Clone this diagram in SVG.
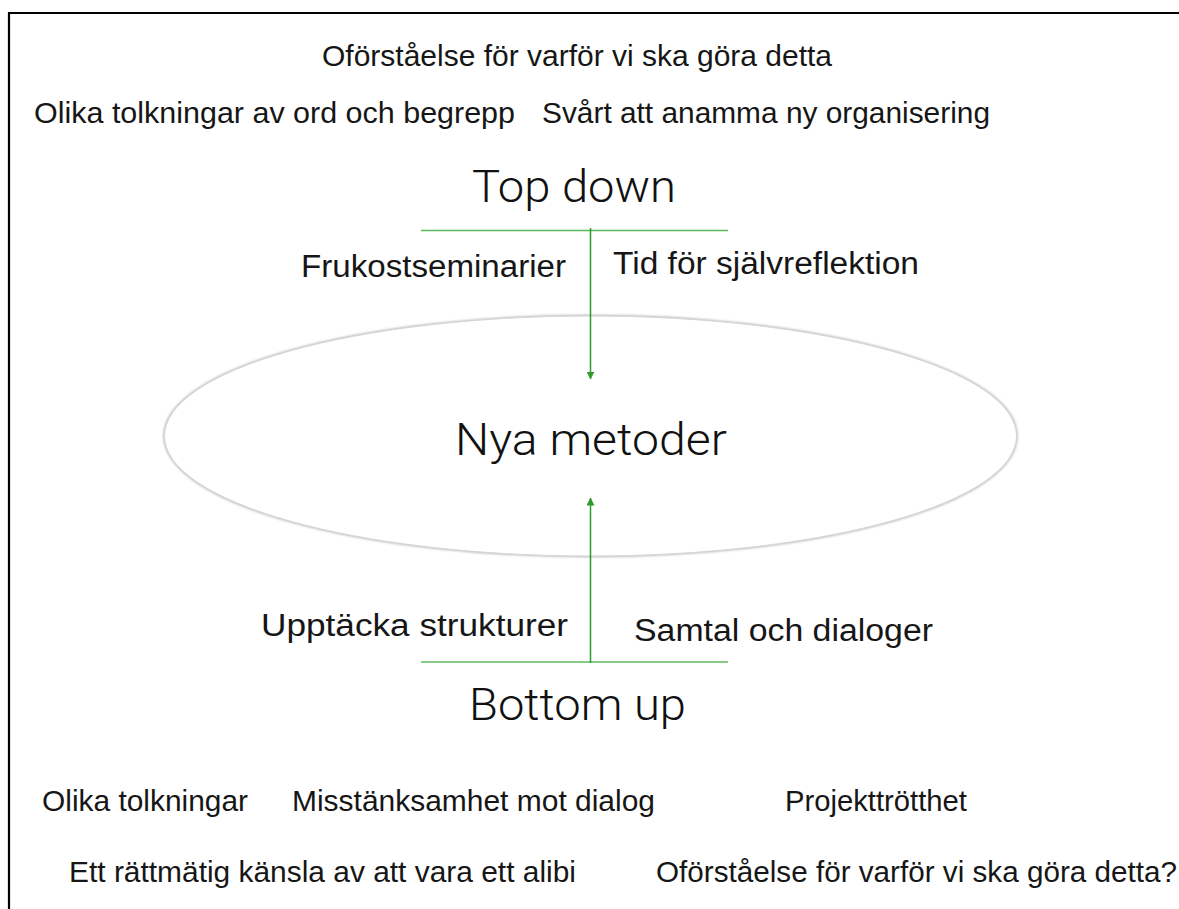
<svg xmlns="http://www.w3.org/2000/svg" width="1179" height="909" viewBox="0 0 1179 909">
<style>
.t{font-family:"Liberation Sans",Arial,sans-serif;fill:#161616;}
.s{font-size:29px;}
.m{font-size:31px;}
.l{font-size:44px;font-family:Roboto,"Liberation Sans",sans-serif;font-weight:300;fill:#111;}
.hl{stroke:#5cb85c;stroke-width:1.6;fill:none;}
.vl{stroke:#2e9a2e;stroke-width:1.5;fill:none;}
</style>
<defs>
<marker id="ah" viewBox="0 0 8 8" refX="7.5" refY="4" markerWidth="8" markerHeight="8" markerUnits="userSpaceOnUse" orient="auto">
<path d="M0,0 L8,4 L0,8 Z" fill="#2e9a2e"/>
</marker>
<filter id="sh" x="-5%" y="-10%" width="110%" height="120%">
<feGaussianBlur stdDeviation="1.2"/>
</filter>
</defs>
<rect width="1179" height="909" fill="#fff"/>
<path d="M9,909 V13 H1179" stroke="#000" stroke-width="2.2" fill="none"/>
<g id="node-nya-metoder">
<ellipse cx="590.5" cy="436" rx="426" ry="120" fill="none" stroke="#bbb" stroke-width="2.5" filter="url(#sh)"/>
<ellipse cx="590.5" cy="436" rx="426" ry="120" fill="#fff" stroke="#d6d6d6" stroke-width="1"/>
<text class="t l" x="455" y="455" textLength="272" lengthAdjust="spacingAndGlyphs">Nya metoder</text>
</g>
<g id="node-top-down">
<text class="t l" x="472" y="202" textLength="204" lengthAdjust="spacingAndGlyphs">Top down</text>
</g>
<g id="node-bottom-up">
<text class="t l" x="469" y="720" textLength="217" lengthAdjust="spacingAndGlyphs">Bottom up</text>
</g>
<g id="connectors">
<line class="hl" x1="421" y1="230.5" x2="728" y2="230.5"/>
<line class="vl" x1="590.5" y1="228" x2="590.5" y2="379" marker-end="url(#ah)"/>
<line class="hl" x1="421" y1="662" x2="728" y2="662"/>
<line class="vl" x1="590.5" y1="663" x2="590.5" y2="498" marker-end="url(#ah)"/>
</g>
<g id="labels-top">
<text class="t s" x="322" y="66" textLength="510" lengthAdjust="spacingAndGlyphs">Oförståelse för varför vi ska göra detta</text>
<text class="t s" x="34" y="123" textLength="481" lengthAdjust="spacingAndGlyphs">Olika tolkningar av ord och begrepp</text>
<text class="t s" x="542" y="123" textLength="448" lengthAdjust="spacingAndGlyphs">Svårt att anamma ny organisering</text>
<text class="t m" x="301" y="277" textLength="265" lengthAdjust="spacingAndGlyphs">Frukostseminarier</text>
<text class="t m" x="613" y="274" textLength="306" lengthAdjust="spacingAndGlyphs">Tid för självreflektion</text>
</g>
<g id="labels-bottom">
<text class="t m" x="261" y="636" textLength="307" lengthAdjust="spacingAndGlyphs">Upptäcka strukturer</text>
<text class="t m" x="634" y="641" textLength="299" lengthAdjust="spacingAndGlyphs">Samtal och dialoger</text>
<text class="t s" x="42" y="811" textLength="206" lengthAdjust="spacingAndGlyphs">Olika tolkningar</text>
<text class="t s" x="292" y="811" textLength="363" lengthAdjust="spacingAndGlyphs">Misstänksamhet mot dialog</text>
<text class="t s" x="785" y="811" textLength="182" lengthAdjust="spacingAndGlyphs">Projekttrötthet</text>
<text class="t s" x="69" y="882" textLength="507" lengthAdjust="spacingAndGlyphs">Ett rättmätig känsla av att vara ett alibi</text>
<text class="t s" x="656" y="882" textLength="521" lengthAdjust="spacingAndGlyphs">Oförståelse för varför vi ska göra detta?</text>
</g>
</svg>
